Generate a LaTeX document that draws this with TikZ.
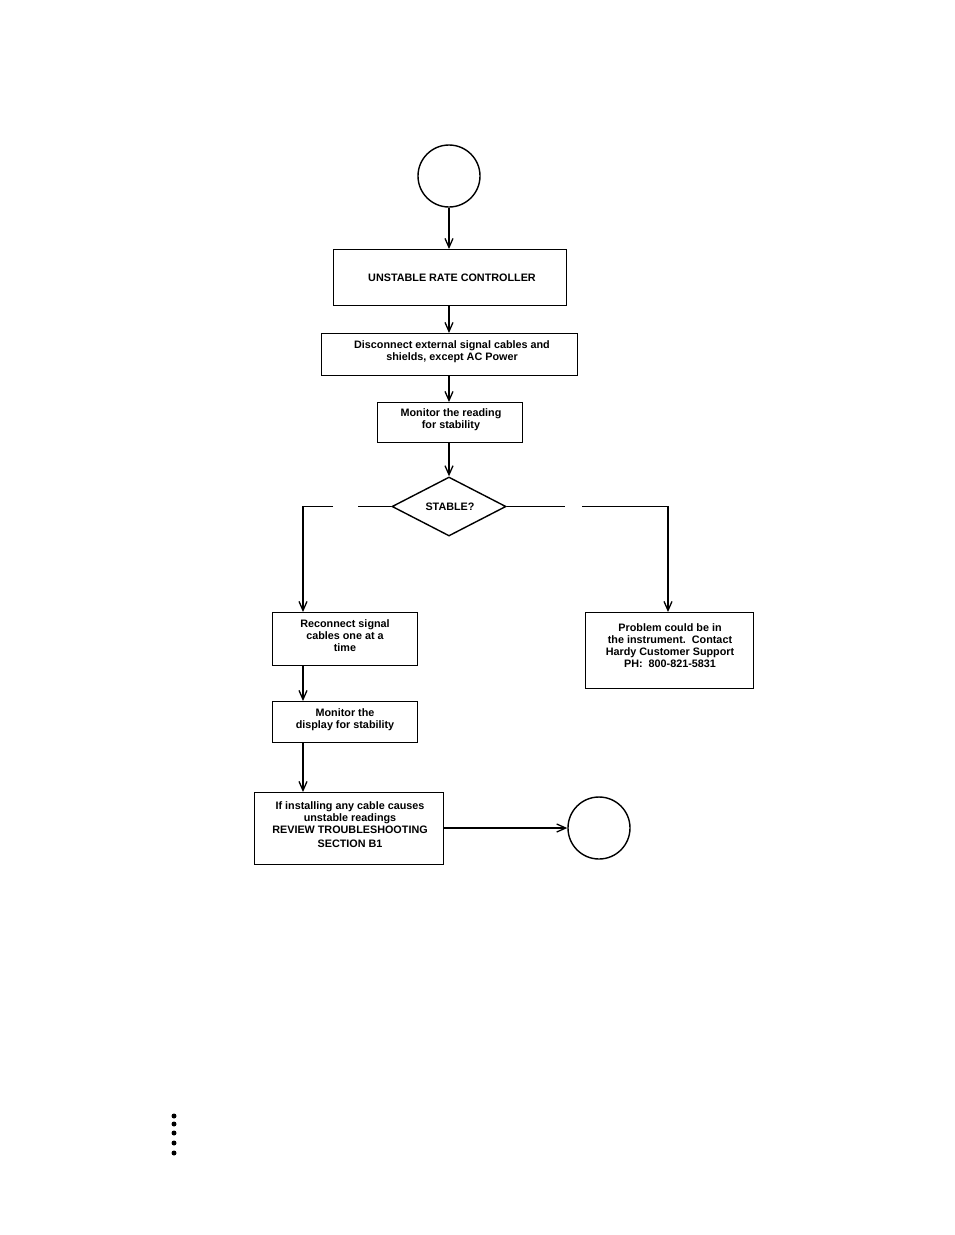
\documentclass[tikz,border=0pt]{standalone}
\usepackage{fontspec}
\setmainfont{Liberation Sans}
\usetikzlibrary{arrows.meta,shapes.geometric}
\begin{document}
\begin{tikzpicture}[x=1pt,y=-1pt,
  box/.style={draw,line width=1.4pt,inner sep=0pt,anchor=north west},
  txt/.style={font=\bfseries\fontsize{10.8}{12}\selectfont,align=center,inner sep=0pt},
  conn/.style={draw,line width=1.4pt},
  arr/.style={conn,-{Straight Barb[length=9pt,width=8pt,line width=1.3pt]}},
  term/.style={draw,circle,line width=1.4pt,minimum size=62pt,inner sep=0pt},
  dec/.style={draw,diamond,line width=1.4pt,aspect=1.93,minimum width=114pt,minimum height=59pt,inner sep=0pt}]
\useasboundingbox (0,0) rectangle (954,1235);
% terminals
\node[term] (c1) at (449,176) {};
\node[term] (c2) at (599,828) {};
% boxes
\node[box,minimum width=233pt,minimum height=56pt] (b1) at (333,249) {};
\node[txt] (t1) at (452,277.5) {UNSTABLE RATE CONTROLLER};
\node[box,minimum width=256pt,minimum height=42pt] (b2) at (321,333) {};
\node[txt] (t2) at (452,351.5) {Disconnect external signal cables and\\shields, except AC Power};
\node[box,minimum width=145pt,minimum height=40pt] (b3) at (377,402) {};
\node[txt] (t3) at (451,419.5) {Monitor the reading\\for stability};
\node[dec] (d) at (449,506.5) {};
\node[txt] (td) at (450,506.5) {STABLE?};
\node[box,minimum width=145pt,minimum height=53pt] (b4) at (272,612) {};
\node[txt] (t4) at (345,635.5) {Reconnect signal\\cables one at a\\time};
\node[box,minimum width=168pt,minimum height=76pt] (b5) at (585,612) {};
\node[txt] (t5) at (670,645.5) {Problem could be in\\the instrument.\ \ Contact\\Hardy Customer Support\\PH:\ \ 800-821-5831};
\node[box,minimum width=145pt,minimum height=41pt] (b6) at (272,701) {};
\node[txt] (t6) at (345,719.5) {Monitor the\\display for stability};
\node[box,minimum width=189pt,minimum height=72pt] (b7) at (254,792) {};
\node[txt] (t7) at (350,824.5) {If installing any cable causes\\unstable readings\\REVIEW TROUBLESHOOTING\\[2pt]SECTION B1};
% connectors
\draw[arr] (c1.south) -- (b1.north -| c1.south);
\draw[arr] (b1.south -| c1) -- (b2.north -| c1);
\draw[arr] (b2.south -| c1) -- (b3.north -| c1);
\draw[arr] (b3.south -| c1) -- (d.north);
\coordinate (lg1) at (358,506.5);
\coordinate (lg2) at (333,506.5);
\coordinate (rg1) at (565,506.5);
\coordinate (rg2) at (582,506.5);
\draw[conn] (d.west) -- (lg1);
\draw[arr] (lg2) -- (303,506.5) -- (303,612);
\draw[conn] (d.east) -- (rg1);
\draw[arr] (rg2) -- (668,506.5) -- (668,612);
\draw[arr] (b4.south -| 303,0) -- (b6.north -| 303,0);
\draw[arr] (b6.south -| 303,0) -- (b7.north -| 303,0);
\draw[arr] (b7.east |- c2) -- (c2.west);
% dots
\foreach \yy [count=\i] in {1116,1124,1133,1143,1153}
  \fill (174,\yy) circle (2.5pt) coordinate (dot\i);
\end{tikzpicture}
\end{document}
